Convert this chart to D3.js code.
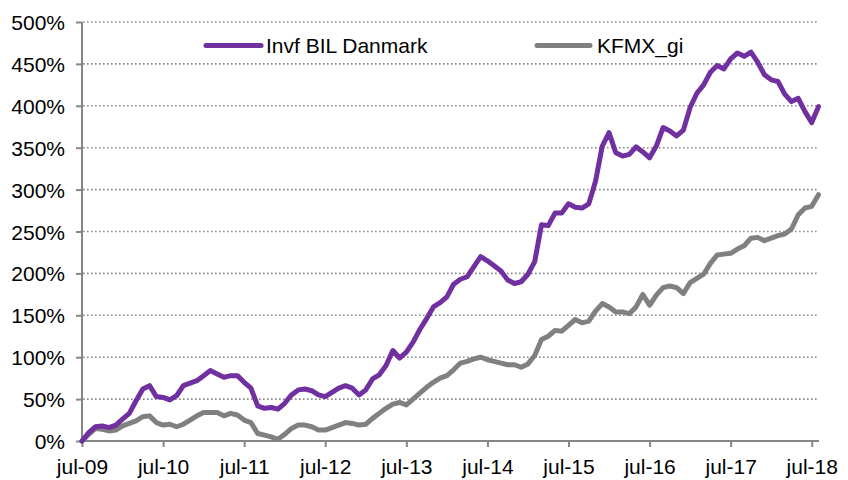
<!DOCTYPE html>
<html>
<head>
<meta charset="utf-8">
<script src="https://cdn.jsdelivr.net/npm/d3@7"></script>
<style>
  html, body { margin: 0; padding: 0; background: #fff; }
  svg { display: block; }
  text { font-family: "Liberation Sans", Arial, sans-serif; fill: #000; }
</style>
</head>
<body>
<svg id="chart" width="848" height="480"></svg>
<script>
// Monthly data, jul-09 .. aug-18 (cumulative return, %)
const seriesNames = ["Invf BIL Danmark", "KFMX_gi"];
const invfBIL = [
  0, 10, 17, 18, 16, 19, 26, 33, 48, 62, 66, 53,
  52, 49, 54, 66, 69, 72, 78, 84, 80, 76, 78, 78,
  70, 63, 42, 39, 40, 38, 45, 55, 61, 62, 60, 55,
  53, 58, 63, 66, 63, 55, 61, 74, 79, 90, 108, 99,
  106, 118, 133, 146, 160, 165, 172, 187, 193, 196, 208, 220,
  215, 209, 203, 192, 188, 190, 199, 214, 258, 257, 272, 272,
  283, 279, 278, 283, 310, 352, 368, 344, 340, 342, 351, 345,
  338, 352, 374, 370, 364, 371, 398, 415, 425, 440, 448, 444,
  456, 463, 459, 464, 452, 437, 431, 429, 414, 405, 409, 393,
  380, 399
];
const kfmx = [
  0, 8, 15, 14, 12, 13, 18, 21, 24, 29, 30, 22,
  19, 20, 17, 20, 25, 30, 34, 34, 34, 30, 33, 31,
  25, 22, 9, 7, 5, 2, 8, 15, 19, 19, 17, 13,
  13, 16, 19, 22, 21, 19, 20, 27, 33, 39, 44, 46,
  43, 50, 57, 64, 70, 75, 78, 85, 93, 95, 98, 100,
  97, 95, 93, 91, 91, 88, 92, 102, 121, 125, 132, 131,
  138, 145, 141, 143, 155, 164, 160, 154, 154, 152, 160, 175,
  162, 174, 183, 185, 183, 176, 189, 194, 199, 212, 222, 223,
  224, 229, 233, 242, 243, 239, 242, 245, 247, 253, 270, 278,
  280, 294
];
const xTickLabels = ["jul-09","jul-10","jul-11","jul-12","jul-13","jul-14","jul-15","jul-16","jul-17","jul-18"];
const yTickValues = [0, 50, 100, 150, 200, 250, 300, 350, 400, 450, 500];

const svg = d3.select("#chart");
const mLeft = 82, mRight = 819, mTop = 22, mBottom = 441;
const nPts = invfBIL.length;

const x = d3.scaleLinear().domain([0, nPts - 1]).range([mLeft, mRight - 0.5]);
const y = d3.scaleLinear().domain([0, 500]).range([mBottom, mTop]);

const axisColor = "#868686";

// gridlines
svg.append("g")
  .selectAll("line")
  .data(yTickValues.filter(v => v > 0))
  .join("line")
  .attr("x1", mLeft + 1).attr("x2", mRight - 1)
  .attr("y1", d => y(d)).attr("y2", d => y(d))
  .attr("stroke", "#8a8a8a")
  .attr("stroke-width", 1.6)
  .attr("stroke-dasharray", "1.6,2.4");

// Y axis
const yAxis = d3.axisLeft(y).tickValues(yTickValues).tickSize(6).tickPadding(11)
  .tickFormat(d => d + "%");
const gy = svg.append("g").attr("transform", `translate(${mLeft},0)`).call(yAxis);
gy.select(".domain").remove();
gy.selectAll(".tick line").attr("stroke", axisColor).attr("stroke-width", 2);
gy.selectAll(".tick text").attr("font-size", 21).attr("font-family", "Liberation Sans, Arial, sans-serif")
  .attr("fill", "#000").attr("dy", "0.36em");
svg.append("line").attr("x1", mLeft).attr("x2", mLeft).attr("y1", mTop).attr("y2", mBottom + 1)
  .attr("stroke", axisColor).attr("stroke-width", 2);

// X axis
const xTickIdx = xTickLabels.map((_, i) => i * 12);
const xAxis = d3.axisBottom(x).tickValues(xTickIdx).tickSize(6).tickPadding(10)
  .tickFormat((d, i) => xTickLabels[i]);
const gx = svg.append("g").attr("transform", `translate(0,${mBottom})`).call(xAxis);
gx.select(".domain").remove();
gx.selectAll(".tick line").attr("stroke", axisColor).attr("stroke-width", 2);
gx.selectAll(".tick text").attr("font-size", 21).attr("font-family", "Liberation Sans, Arial, sans-serif")
  .attr("fill", "#000").attr("dy", "0.82em");
svg.append("line").attr("x1", mLeft - 1).attr("x2", mRight).attr("y1", mBottom).attr("y2", mBottom)
  .attr("stroke", axisColor).attr("stroke-width", 2);

// lines
const line = d3.line().x((d, i) => x(i)).y(d => y(d)).curve(d3.curveLinear);
const colors = ["#7030A0", "#808080"];
[kfmx, invfBIL].forEach((s, k) => {
  svg.append("path").datum(s)
    .attr("fill", "none")
    .attr("stroke", k === 0 ? colors[1] : colors[0])
    .attr("stroke-width", 5)
    .attr("stroke-linejoin", "round")
    .attr("stroke-linecap", "round")
    .attr("d", line);
});

// legend
const legendItems = [
  { name: seriesNames[0], color: colors[0], x1: 206, x2: 261, tx: 266 },
  { name: seriesNames[1], color: colors[1], x1: 537, x2: 590, tx: 597 }
];
const lg = svg.append("g");
legendItems.forEach(it => {
  lg.append("line").attr("x1", it.x1).attr("x2", it.x2).attr("y1", 45.5).attr("y2", 45.5)
    .attr("stroke", it.color).attr("stroke-width", 5).attr("stroke-linecap", "round");
  lg.append("text").attr("x", it.tx).attr("y", 53).attr("font-size", 21).text(it.name);
});
</script>
</body>
</html>
